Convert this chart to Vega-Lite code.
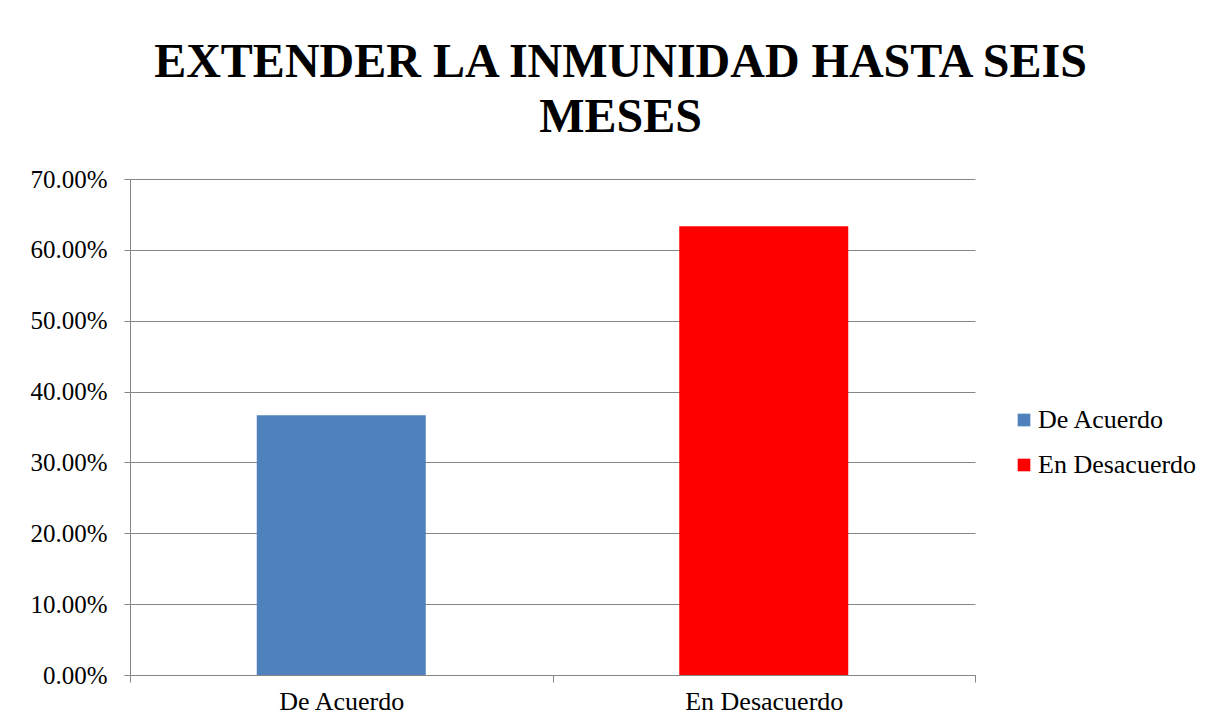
{
  "$schema": "https://vega.github.io/schema/vega-lite/v6.json",
  "width": 845,
  "height": 496,
  "autosize": {"type": "none"},
  "padding": {"left": 130, "top": 179, "right": 247, "bottom": 53},
  "background": "white",
  "title": {
    "text": ["EXTENDER LA INMUNIDAD HASTA SEIS", "MESES"],
    "font": "Liberation Serif",
    "fontSize": 48,
    "fontWeight": "bold",
    "color": "#000000",
    "anchor": "middle",
    "frame": "group",
    "dx": 68,
    "lineHeight": 55,
    "offset": 25
  },
  "data": {
    "values": [
      {"categoria": "De Acuerdo", "porcentaje": 0.3667},
      {"categoria": "En Desacuerdo", "porcentaje": 0.6333}
    ]
  },
  "mark": {"type": "bar", "width": {"band": 0.4}},
  "encoding": {
    "x": {
      "field": "categoria",
      "type": "nominal",
      "sort": null,
      "scale": {"paddingInner": 0, "paddingOuter": 0},
      "axis": {
        "title": null,
        "labelAngle": 0,
        "tickBand": "extent",
        "grid": false,
        "domainColor": "#868686",
        "tickColor": "#868686",
        "tickSize": 7,
        "labelFont": "Liberation Serif",
        "labelFontSize": 26,
        "labelColor": "#000000",
        "labelPadding": 6
      }
    },
    "y": {
      "field": "porcentaje",
      "type": "quantitative",
      "scale": {"domain": [0, 0.7], "nice": false},
      "axis": {
        "title": null,
        "format": ".2%",
        "values": [0, 0.1, 0.2, 0.3, 0.4, 0.5, 0.6, 0.7],
        "grid": true,
        "gridColor": "#868686",
        "gridOpacity": 1,
        "domainColor": "#868686",
        "tickColor": "#868686",
        "tickSize": 6,
        "labelFont": "Liberation Serif",
        "labelFontSize": 25,
        "labelColor": "#000000",
        "labelPadding": 17
      }
    },
    "color": {
      "field": "categoria",
      "type": "nominal",
      "sort": null,
      "scale": {"domain": ["De Acuerdo", "En Desacuerdo"], "range": ["#4F81BD", "#FF0000"]},
      "legend": {
        "title": null,
        "orient": "none",
        "legendX": 881,
        "legendY": 228,
        "symbolType": "square",
        "symbolSize": 160,
        "symbolStrokeWidth": 0,
        "labelFont": "Liberation Serif",
        "labelFontSize": 26,
        "labelColor": "#000000",
        "labelOffset": 1,
        "rowPadding": 19
      }
    }
  },
  "config": {
    "view": {"stroke": null}
  }
}
